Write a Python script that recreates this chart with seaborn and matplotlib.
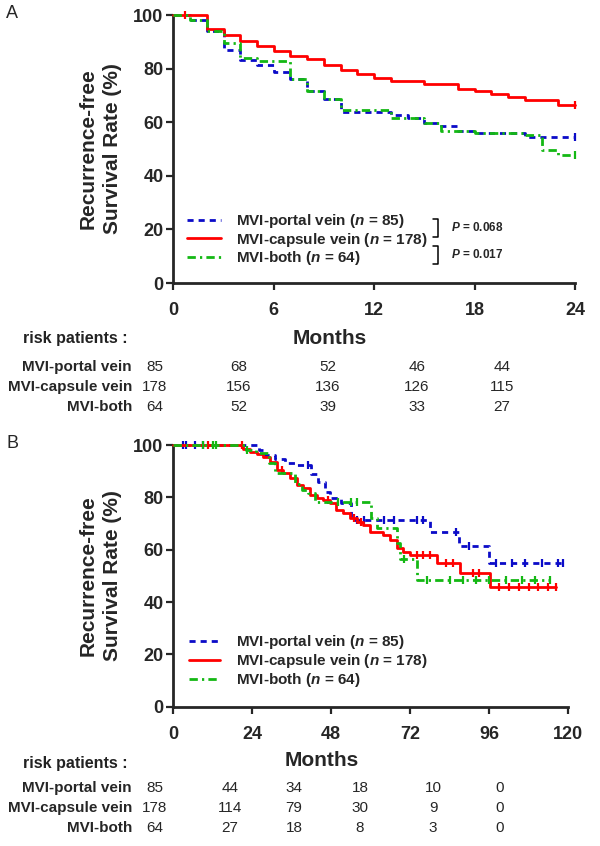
import numpy as np
import pandas as pd
import matplotlib
matplotlib.use("Agg")
import matplotlib.pyplot as plt
from matplotlib.lines import Line2D
import seaborn as sns

# ---- data ----
groups = ["MVI-portal vein", "MVI-capsule vein", "MVI-both"]
group_n = [85, 178, 64]

# panel A: 24-month recurrence-free survival (%)
a_t_portal = [0, 1, 2, 3, 4, 5, 6, 7, 8, 9, 10, 13, 14, 15, 16, 17, 18, 21, 24]
a_s_portal = [100, 98.1, 94.0, 86.9, 83.2, 81.3, 78.8, 76.0, 71.8, 68.5, 63.9, 62.7, 61.5, 59.6, 58.4, 56.9, 55.8, 54.4, 54.4]
a_t_capsule = [0, 2, 3, 4, 5, 6, 7, 8, 9, 10, 11, 12, 13, 15, 17, 18, 19, 20, 21, 23, 24]
a_s_capsule = [100, 94.7, 92.5, 90.4, 88.5, 86.4, 84.8, 83.5, 81.2, 79.6, 78.0, 76.6, 75.5, 74.4, 72.3, 71.6, 70.4, 69.3, 68.3, 66.4, 66.4]
a_t_both = [0, 1, 2, 3, 4, 5, 7, 8, 9, 10, 13, 15, 16, 18, 21, 22, 23, 24]
a_s_both = [100, 98.1, 94.0, 89.4, 83.8, 82.7, 76.0, 71.6, 68.5, 64.6, 61.5, 59.6, 56.9, 55.8, 55.2, 49.6, 47.8, 47.8]
a_cens_portal = [24]
a_cens_capsule = [0.7, 24]
a_cens_both = [24]

# panel B: 120-month recurrence-free survival (%)
b_t_portal = [0, 26, 28, 31, 34, 37, 42, 44, 46, 47.5, 51, 54, 78, 87, 96, 118.5]
b_s_portal = [100, 98.0, 96.2, 94.5, 93.3, 92.5, 89.0, 86.0, 82.2, 79.6, 78.0, 71.3, 66.8, 61.4, 54.8, 54.8]
b_t_capsule = [0, 21.3, 23.3, 25.3, 27.4, 29.4, 31.4, 33.4, 35.5, 37.5, 39.5, 41.5, 43.6, 45.6, 47.6,
               49.6, 51.7, 53.7, 55.7, 57.8, 59.8, 63.8, 65.9, 67.9, 69.9, 71.9, 80.1, 87.1, 96.2, 116.5]
b_s_capsule = [100, 98.5, 97.4, 96.4, 95.5, 93.6, 90.4, 89.2, 87.3, 84.7, 83.4, 80.9, 79.6, 79.0, 77.7,
               75.2, 73.9, 72.0, 70.7, 69.4, 66.9, 65.6, 63.7, 60.5, 59.3, 58.0, 54.8, 51.2, 45.9, 45.9]
b_t_both = [0, 22, 25, 29, 31, 37, 39, 41, 43, 60, 62, 68, 69, 74, 114.5]
b_s_both = [100, 98.0, 96.8, 93.0, 89.2, 85.0, 82.8, 81.5, 78.3, 72.0, 68.2, 62.5, 56.5, 48.5, 48.5]
b_cens_portal = [3, 4, 6.5, 9, 41, 56, 58, 64, 67, 74, 76, 86, 90, 98, 103, 107, 112, 117, 118.5]
b_cens_capsule = [10.5, 21, 33, 47, 55, 57, 74, 76, 78, 83, 85, 91, 93, 99, 102, 105, 108, 111, 114, 116.5]
b_cens_both = [9, 12, 13, 22.5, 50, 54, 56, 70, 77, 84, 88, 92, 96, 101, 106, 110, 114.5]

# numbers at risk
a_risk = [[85, 68, 52, 46, 44],
          [178, 156, 136, 126, 115],
          [64, 52, 39, 33, 27]]
b_risk = [[85, 44, 34, 18, 10, 0],
          [178, 114, 79, 30, 9, 0],
          [64, 27, 18, 8, 3, 0]]

p_values = ["0.068", "0.017"]

colors = ["#0b0bc8", "#ff0000", "#14b814"]
styles = [(0, (2.2, 1.8)), "-", (0, (3, 1.5, 0.8, 1.5))]

sns.set_style("ticks")
plt.rcParams["font.family"] = ["Liberation Sans", "DejaVu Sans"]
plt.rcParams["mathtext.fontset"] = "custom"
plt.rcParams["mathtext.rm"] = "Liberation Sans"
plt.rcParams["mathtext.it"] = "Liberation Sans:italic"
plt.rcParams["mathtext.bf"] = "Liberation Sans:bold"
plt.rcParams["mathtext.bfit"] = "Liberation Sans:italic:bold"

fig = plt.figure(figsize=(6, 8.46), dpi=100)


def fx(px):
    return px / 600


def fy(py):
    return 1 - py / 846


def surv_at(times, surv, t):
    times = np.asarray(times)
    surv = np.asarray(surv)
    idx = np.searchsorted(times, t, side="right") - 1
    return surv[np.clip(idx, 0, len(surv) - 1)]


def km_panel(ax, curves, censors, xmax, xstep):
    for (t, s), cens, c, ls in zip(curves, censors, colors, styles):
        df = pd.DataFrame({"Months": t, "Survival": s})
        sns.lineplot(data=df, x="Months", y="Survival", ax=ax, color=c, lw=2,
                     linestyle=ls, drawstyle="steps-post", estimator=None,
                     sort=False, clip_on=False, zorder=3)
        ax.plot(cens, surv_at(t, s, cens), ls="none", marker="|", ms=6,
                mew=1.6, color=c, clip_on=False, zorder=3)
    ax.set_xlim(0, xmax)
    ax.set_ylim(0, 100)
    ax.set_xticks(np.arange(0, xmax + 1, xstep))
    ax.set_yticks(np.arange(0, 101, 20))
    sns.despine(ax=ax)
    for sp in ["left", "bottom"]:
        ax.spines[sp].set_linewidth(2)
    ax.tick_params(width=1.6, length=5, labelsize=13, pad=2)
    ax.tick_params(axis="x", pad=9)
    for lab in ax.get_xticklabels() + ax.get_yticklabels():
        lab.set_fontweight("bold")
    ax.set_ylabel("Recurrence-free\nSurvival Rate (%)", fontsize=15,
                  fontweight="bold", linespacing=1.35)
    ax.set_xlabel("Months", fontsize=15, fontweight="bold")
    handles = [Line2D([], [], color=c, lw=2, linestyle=ls) for c, ls in zip(colors, styles)]
    labels = [f"{g} ($\\mathbfit{{n}}$ = {n})" for g, n in zip(groups, group_n)]
    return handles, labels


# ---- panel A ----
axA = fig.add_axes([fx(173.3), fy(283), 401.7 / 600, 268 / 846])
hA, lA = km_panel(axA,
                  [(a_t_portal, a_s_portal), (a_t_capsule, a_s_capsule), (a_t_both, a_s_both)],
                  [a_cens_portal, a_cens_capsule, a_cens_both], 24, 6)
axA.yaxis.set_label_coords(-0.128, 0.5)
axA.xaxis.set_label_coords(0.39, -0.17)
axA.legend(hA, lA, loc="lower left", bbox_to_anchor=(0.035, 0.058), frameon=False,
           prop={"weight": "bold", "size": 11}, handlelength=2.2, handletextpad=1.0,
           labelspacing=0.05, borderpad=0, borderaxespad=0)

# P-value brackets
for (y0, y1), p in zip([(23.9, 17.2), (13.8, 7.1)], p_values):
    axA.plot([15.5, 15.8, 15.8, 15.5], [y0, y0, y1, y1], color="black", lw=1.1, clip_on=False)
    axA.text(16.6, (y0 + y1) / 2, f"$\\mathbfit{{P}}$ = {p}", fontsize=8.5,
             fontweight="bold", va="center", ha="left")

# ---- panel B ----
axB = fig.add_axes([fx(173.3), fy(706.7), 394.7 / 600, 261.7 / 846])
hB, lB = km_panel(axB,
                  [(b_t_portal, b_s_portal), (b_t_capsule, b_s_capsule), (b_t_both, b_s_both)],
                  [b_cens_portal, b_cens_capsule, b_cens_both], 120, 24)
axB.yaxis.set_label_coords(-0.13, 0.5)
axB.xaxis.set_label_coords(0.377, -0.17)
axB.legend(hB, lB, loc="lower left", bbox_to_anchor=(0.04, 0.068), frameon=False,
           prop={"weight": "bold", "size": 11}, handlelength=2.0, handletextpad=1.1,
           labelspacing=0.05, borderpad=0, borderaxespad=0)

# ---- panel letters ----
fig.text(fx(6), fy(13), "A", fontsize=13, va="center", ha="left")
fig.text(fx(6), fy(443), "B", fontsize=13, va="center", ha="left")


# ---- numbers at risk tables ----
def risk_table(header_y, row_ys, col_xs, risk):
    fig.text(fx(128), fy(header_y), "risk patients :", fontsize=11.5,
             fontweight="bold", ha="right", va="center", color="#222222")
    for g, ry, vals in zip(groups, row_ys, risk):
        fig.text(fx(132), fy(ry), g, fontsize=11, fontweight="bold",
                 ha="right", va="center")
        for cx, v in zip(col_xs, vals):
            fig.text(fx(cx), fy(ry), str(v), fontsize=11, ha="center", va="center")


risk_table(338, [367, 387, 407], [155, 239, 328, 417, 502], a_risk)
risk_table(763, [788, 808, 828], [155, 230, 294, 360, 433, 500], b_risk)

fig.savefig("out.png", dpi=100)
